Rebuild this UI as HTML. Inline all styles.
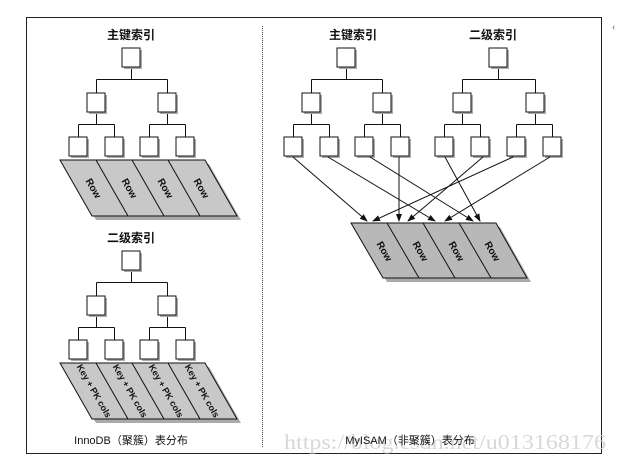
<!DOCTYPE html>
<html><head><meta charset="utf-8"><style>
html,body{margin:0;padding:0;background:#fff;width:619px;height:465px;overflow:hidden}
svg{display:block}
.t{font-family:"Liberation Sans","Noto Sans CJK SC",sans-serif;font-weight:bold;font-size:12px;fill:#111}
.r{font-family:"Liberation Sans",sans-serif;font-weight:bold;font-size:10px;fill:#111}
</style></head><body>
<svg width="619" height="465" viewBox="0 0 619 465" xmlns="http://www.w3.org/2000/svg">
<defs>
<g id="bx"><rect x="2" y="2" width="18" height="19" fill="#aaa"/><rect x="0" y="0" width="18" height="19" fill="#fff" stroke="#111" stroke-width="1"/></g>
<marker id="ah" markerWidth="8" markerHeight="8" refX="7" refY="4" orient="auto" markerUnits="userSpaceOnUse"><path d="M0,1 L8,4 L0,7 z" fill="#111"/></marker>
</defs>
<path d="M26.5,17.5 H601.5 V453.5 H26.5 Z" fill="none" stroke="#222" stroke-width="1"/>
<line x1="262.5" y1="26" x2="262.5" y2="448" stroke="#444" stroke-dasharray="1,1"/>
<text x="612" y="30" font-size="10" fill="#555">‹</text>

<text class="t" x="131" y="39" text-anchor="middle">主键索引</text>
<path stroke="#111" fill="none" d="M131.5,67 V79.5 M96.5,79.5 H167.5 M96.5,79.5 V93 M167.5,79.5 V93 M96.5,112 V124.5 M78.5,124.5 H114.5 M78.5,124.5 V137 M114.5,124.5 V137 M167.5,112 V124.5 M149.5,124.5 H185.5 M149.5,124.5 V137 M185.5,124.5 V137"/>
<use href="#bx" x="122" y="48"/><use href="#bx" x="87" y="93"/><use href="#bx" x="158" y="93"/>
<use href="#bx" x="69" y="137"/><use href="#bx" x="105" y="137"/><use href="#bx" x="140" y="137"/><use href="#bx" x="176" y="137"/>
<polygon points="64,164 209,164 241,220 96,220" fill="#aaa"/>
<polygon points="60,160 205,160 237,216 92,216" fill="#c8c8c8" stroke="#111"/>
<path d="M96,160 L128,216 M132,160 L164,216 M168,160 L200,216" stroke="#111"/>
<g class="r"><text transform="translate(94,188) rotate(60)" text-anchor="middle" dy="4">Row</text>
<text transform="translate(130,188) rotate(60)" text-anchor="middle" dy="4">Row</text>
<text transform="translate(166,188) rotate(60)" text-anchor="middle" dy="4">Row</text>
<text transform="translate(202,188) rotate(60)" text-anchor="middle" dy="4">Row</text></g>

<text class="t" x="131" y="242" text-anchor="middle">二级索引</text>
<g transform="translate(0,203)">
<path stroke="#111" fill="none" d="M131.5,67 V79.5 M96.5,79.5 H167.5 M96.5,79.5 V93 M167.5,79.5 V93 M96.5,112 V124.5 M78.5,124.5 H114.5 M78.5,124.5 V137 M114.5,124.5 V137 M167.5,112 V124.5 M149.5,124.5 H185.5 M149.5,124.5 V137 M185.5,124.5 V137"/>
<use href="#bx" x="122" y="48"/><use href="#bx" x="87" y="93"/><use href="#bx" x="158" y="93"/>
<use href="#bx" x="69" y="137"/><use href="#bx" x="105" y="137"/><use href="#bx" x="140" y="137"/><use href="#bx" x="176" y="137"/>
<polygon points="64,164 209,164 241,220 96,220" fill="#aaa"/>
<polygon points="60,160 205,160 237,216 92,216" fill="#c8c8c8" stroke="#111"/>
<path d="M96,160 L128,216 M132,160 L164,216 M168,160 L200,216" stroke="#111"/>
<g class="r" style="font-size:9px"><text transform="translate(94,188) rotate(60)" text-anchor="middle" dy="3">Key + PK cols</text>
<text transform="translate(130,188) rotate(60)" text-anchor="middle" dy="3">Key + PK cols</text>
<text transform="translate(166,188) rotate(60)" text-anchor="middle" dy="3">Key + PK cols</text>
<text transform="translate(202,188) rotate(60)" text-anchor="middle" dy="3">Key + PK cols</text></g>
</g>
<text x="131" y="444" text-anchor="middle" style="font-family:'Liberation Sans','Noto Sans CJK SC',sans-serif;font-size:11px;fill:#111">InnoDB（聚簇）表分布</text>

<text class="t" x="353" y="39" text-anchor="middle">主键索引</text>
<text class="t" x="493" y="39" text-anchor="middle">二级索引</text>
<path stroke="#111" fill="none" d="M346.5,67 V79.5 M311.5,79.5 H382.5 M311.5,79.5 V93 M382.5,79.5 V93
M311.5,112 V124.5 M293.5,124.5 H329.5 M293.5,124.5 V137 M329.5,124.5 V137
M382.5,112 V124.5 M364.5,124.5 H400.5 M364.5,124.5 V137 M400.5,124.5 V137
M498.5,67 V79.5 M462.5,79.5 H535.5 M462.5,79.5 V93 M535.5,79.5 V93
M462.5,112 V124.5 M444.5,124.5 H480.5 M444.5,124.5 V137 M480.5,124.5 V137
M535.5,112 V124.5 M516.5,124.5 H552.5 M516.5,124.5 V137 M552.5,124.5 V137"/>
<use href="#bx" x="337" y="48"/><use href="#bx" x="489" y="48"/>
<use href="#bx" x="302" y="93"/><use href="#bx" x="373" y="93"/><use href="#bx" x="453" y="93"/><use href="#bx" x="526" y="93"/>
<use href="#bx" x="284" y="137"/><use href="#bx" x="320" y="137"/><use href="#bx" x="355" y="137"/><use href="#bx" x="391" y="137"/>
<use href="#bx" x="435" y="137"/><use href="#bx" x="471" y="137"/><use href="#bx" x="507" y="137"/><use href="#bx" x="543" y="137"/>
<g stroke="#111" stroke-width="1" marker-end="url(#ah)">
<line x1="293" y1="157" x2="367" y2="221"/>
<line x1="328" y1="157" x2="435" y2="221"/>
<line x1="370" y1="157" x2="473" y2="221"/>
<line x1="399" y1="157" x2="399" y2="221"/>
<line x1="445" y1="157" x2="480" y2="221"/>
<line x1="483" y1="157" x2="408" y2="221"/>
<line x1="513" y1="157" x2="373" y2="221"/>
<line x1="550" y1="157" x2="445" y2="221"/>
</g>
<polygon points="355,227 500,227 531,282 387,282" fill="#aaa"/>
<polygon points="351,223 496,223 527,278 383,278" fill="#b8b8b8" stroke="#111"/>
<path d="M387,223 L419,278 M423,223 L455,278 M459,223 L491,278" stroke="#111"/>
<g class="r"><text transform="translate(385,251) rotate(60)" text-anchor="middle" dy="4">Row</text>
<text transform="translate(421,251) rotate(60)" text-anchor="middle" dy="4">Row</text>
<text transform="translate(457,251) rotate(60)" text-anchor="middle" dy="4">Row</text>
<text transform="translate(493,251) rotate(60)" text-anchor="middle" dy="4">Row</text></g>

<text x="284" y="449" textLength="322" lengthAdjust="spacingAndGlyphs" style="font-family:'Liberation Serif',serif;font-size:21px;fill:#d8d8d8">https://blog.csdn.net/u013168176</text>
<text x="410" y="444" text-anchor="middle" style="font-family:'Liberation Sans','Noto Sans CJK SC',sans-serif;font-size:11px;fill:#111">MyISAM（非聚簇）表分布</text>
</svg>
</body></html>
